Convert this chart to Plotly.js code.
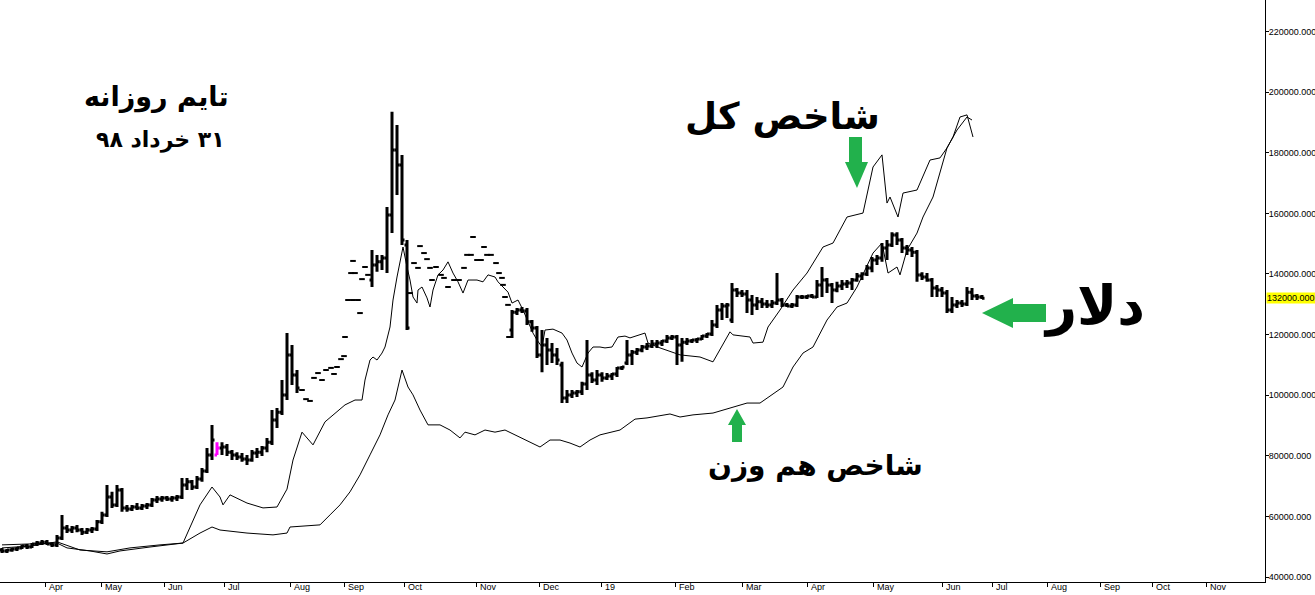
<!DOCTYPE html>
<html><head><meta charset="utf-8">
<script src="https://cdn.plot.ly/plotly-3.0.1.min.js"></script>
<style>html,body{margin:0;padding:0;background:#fff;}#chart{width:1315px;height:595px;}</style>
</head><body><div id="chart"></div>
<script>
// Month tick positions (bar index) and labels
const monthTicks = [8.6,19.8,32.4,44.4,57.6,68.4,80.4,94.8,107.4,119.8,134.6,148,161,174.2,188,198,209,219.6,230,240.8];
const monthLabels = ['Apr','May','Jun','Jul','Aug','Sep','Oct','Nov','Dec','19','Feb','Mar','Apr','May','Jun','Jul','Aug','Sep','Oct','Nov'];
const priceTicks = [40000,60000,80000,100000,120000,140000,160000,180000,200000,220000];

// USD (dollar) daily bars
const barX = [0,1,2,3,4,5,6,7,8,9,10,11,12,13,14,15,16,17,18,19,20,21,22,23,24,25,26,27,28,29,30,31,32,33,34,35,36,37,38,39,40,41,42,44,45,46,47,48,49,50,51,52,53,54,55,56,57,58,59,
74,75,76,77,78,79,80,81,
102,103,104,105,106,107,108,109,110,111,112,113,114,115,116,117,118,119,120,121,122,123,124,125,126,127,128,129,130,131,132,133,134,135,136,137,138,139,140,141,142,143,144,145,146,147,148,149,150,151,152,153,154,155,156,157,158,159,160,161,162,163,164,165,166,167,168,169,170,171,172,173,174,175,176,177,178,179,180,181,182,183,184,185,186,187,188,189,190,191,192,193,194,195,196];
const barOpen = [48900,48600,48900,49200,49600,50200,49900,50900,51200,51500,50900,50600,52900,56200,55500,56200,55500,54800,55500,55800,58200,60500,66400,63800,68700,62800,62400,63100,62800,63400,63800,65400,65700,66100,65700,66100,66400,70400,71400,69700,72300,75000,80300,82600,82900,81200,80300,79600,78900,78600,80900,81200,82600,84500,91800,94400,100100,113300,106700,
138000,143000,144000,145300,159500,180900,176000,149600,
121500,127400,128100,127800,124200,122200,113300,116600,114900,113300,110000,99100,100100,100700,101100,103700,106700,105000,106700,105700,106300,107000,109000,110600,113300,114200,114900,115900,116200,116900,117200,117900,118900,119200,116600,117500,117900,118200,118500,119500,120200,123200,128100,129400,124800,134700,133700,133400,131400,129800,130800,130100,129800,130400,131400,129800,129400,129800,132400,132400,132700,132400,136400,138000,136400,134700,136000,136700,137000,138000,139300,140000,142000,144600,145300,148600,149600,152900,151200,148600,147900,147200,139700,139000,138000,135400,134700,133700,128100,129800,130400,130100,134000,132700,132400];
const barHigh = [49600,49200,49600,49900,50600,50900,51200,51900,52200,52200,51500,53900,60500,57200,56800,57200,56200,56200,56500,58800,61500,70400,68100,70400,69400,63800,63800,64400,64100,64400,66100,66700,66700,66700,66700,67100,72700,72700,72000,73300,76000,82600,90200,84500,83900,81900,81200,80900,80300,81900,82600,83200,85900,95100,95800,105000,120500,116600,108300,
147900,146300,146300,162100,193500,189200,179300,151200,
128100,128800,129100,128800,124800,122800,121500,118900,117200,115600,111000,101700,101700,101700,104400,118200,107600,108300,107600,107300,107300,109300,109600,118200,114900,115600,116600,117200,118200,118200,118200,119900,119900,119900,118900,118900,118500,118900,119900,120500,124800,129800,130400,130400,137000,135400,134700,134700,133100,132400,132100,131400,131400,140300,132100,130400,130400,133100,133100,133100,133400,138000,142300,138700,137000,137400,138000,138000,138700,140300,140600,143000,145600,146300,150200,151200,153800,153800,151900,149600,148900,147900,140600,140300,138700,136400,135700,134700,132400,131400,131400,135700,135400,133400,133100];
const barLow = [47900,47900,48300,48600,49200,49200,49600,50200,50600,50600,49900,49900,52200,54500,54500,54800,53900,54200,54500,55200,57500,59800,62800,63100,61500,61500,61800,62100,62100,62400,63100,64400,64800,65100,64800,65100,65700,68700,68700,69000,71400,74300,78600,80300,79900,78600,78600,78000,77000,78000,79300,79900,81200,83600,89200,93500,98400,103400,100700,
135700,140700,141300,140300,153500,166100,149600,121500,
118900,126500,127100,123200,120900,112300,107600,110000,110600,110000,97400,97400,99100,99400,100100,101700,104000,103400,104400,105000,105000,106000,108300,110000,110000,113300,114200,114900,115600,115600,116200,117200,118200,110000,111000,116600,117200,117200,118200,118900,119500,122200,124800,125500,123800,132400,132400,127100,126500,128100,128800,128800,128800,129800,129100,129100,128800,129100,131700,131700,132100,132100,132400,133700,130400,134000,134700,135400,134700,137400,138000,139300,140600,143000,144000,144600,148900,149600,146900,146300,145600,137400,138000,137400,132400,132400,132400,127100,127100,128800,129100,129400,131400,131400,131700];
const barClose = [48600,48900,49200,49600,50200,49900,50900,51200,51500,50900,50600,52900,56200,55500,56200,55500,54800,55500,55800,58200,60500,66400,63800,68700,62800,62400,63100,62800,63400,63800,65400,65700,66100,65700,66100,66400,70400,71400,69700,72300,75000,80300,85200,82900,81200,80300,79600,78900,78600,80900,81200,82600,84500,91800,94400,100100,113300,106700,102400,
143000,144000,145300,159500,180900,176000,151200,122200,
127400,128100,127800,124200,122200,113300,116600,114900,113300,111600,99100,100100,100700,101100,103700,106700,105000,106700,105700,106300,107000,109000,109300,113300,114200,114900,115900,116200,116900,117200,117900,118900,119200,116600,117500,117900,118200,118500,119500,120200,123200,128100,129400,129800,134700,133700,133400,131400,129800,130800,130100,129800,130400,131400,129800,129400,129800,132400,132400,132700,132400,136400,138000,136400,134700,136000,136700,137000,138000,139300,140000,142000,144600,145300,148600,149600,152900,151200,148600,147900,147200,139700,139000,138000,135400,134700,133700,128100,129800,130400,130100,134000,132700,132400,132000];

// highlighted (magenta) bar
const markX = [43];
const markOpen = [80300], markHigh = [84500], markLow = [80300], markClose = [82600];

// single-quote days (open = high = low = close)
const flatX = [60.0,60.8,61.6,62.4,63.2,64.0,64.8,65.8,66.4,67.0,67.8,68.4,68.6,69.2,70.2,71.2,71.6,69.8,70.6,70.2,72.0,72.6,73.2,
81.6,82.4,83.2,83.6,84.4,85.0,85.6,86.0,86.8,87.8,88.4,89.2,90.4,91.4,92.4,93.0,93.8,94.2,95.0,95.8,96.4,97.0,97.8,98.8,99.4,100.0,100.2,100.6,101.2,101.4];
const flatPrice = [101700,98700,98100,105700,107300,105000,108300,109000,107000,109300,111900,112900,119200,131400,131400,131400,127100,140300,140300,144300,138300,142300,139700,
133700,143600,142000,149200,146900,144900,142000,138000,142300,139700,138700,135700,138000,138000,142000,146300,146300,152200,144600,144600,148900,146300,146300,143600,140300,138700,136400,132400,129800,119200];

// Total index (scaled)
const totalX = [0,5.6,11,12.6,15.6,21,25.6,31.6,36.2,39.6,42,43.6,44.2,45.6,49,52.2,55,57,58.2,60,62.2,64.6,66.6,68.6,70.6,72,72.6,73.6,74.2,75,76,76.6,77.6,78.2,79,79.6,80.2,81,81.6,82.2,83,83.2,84,85,85.6,86.2,87.2,88.2,89.2,90.2,91.2,92.2,93.2,95,96.2,97.2,98.6,99.2,100.2,101.2,102,103.2,104.2,105.6,106.2,107,108,108.6,110.2,112,113,114,115,116,117.2,118.2,119.6,120.6,122,123.2,124.6,125.6,128.6,129.2,131.6,135.6,139.6,142.2,145.6,146.2,149.6,150.2,152.2,153.2,155.6,158.2,161,164.2,166.2,169,172.2,174.2,176,177,177.6,179.2,180.2,183,185.6,187.6,189,190.2,191.6,193,194.2];
const totalVal = [49600,50200,51600,50600,48900,48300,49600,50600,51200,63800,69700,66400,63800,67100,64400,62800,63100,69000,78600,87800,83600,91200,94100,96800,98400,98400,105000,111600,112600,111600,113900,115900,122500,131400,139000,144600,148900,142300,138000,132400,130400,134700,135700,132100,129100,134700,139700,141300,144000,140300,137400,133700,138000,138000,137400,139700,139000,137400,135700,134000,130400,131400,128100,122500,120500,118200,115900,121500,121800,120500,118200,113900,110600,109300,113900,115900,115900,115600,115900,119200,119500,118900,120500,117200,115600,113300,112600,111000,120900,119900,119200,117200,117500,122500,128100,134700,140300,148900,150200,158800,160100,175300,179300,163400,165400,158800,166700,167700,177600,178300,181600,185200,191800,192500,185200];

// Equal-weight index (scaled)
const equalX = [0,5.6,11,13,17.6,21,23.6,29.6,36.2,39.6,42,43.6,49,54.2,57,57.6,63.6,65.6,67.6,69.6,71.6,73.6,75.6,77.2,78.6,80,81.2,82.2,83.6,85.2,87.6,89.6,91.6,92.6,94.6,96.6,98.6,100.6,102.6,104.6,107.6,109.6,111.6,113.6,115.6,117.6,119.6,123.6,126.6,129,133.6,135.6,138.2,142.2,145.6,149,151.6,155,156.2,158.2,160.2,162.2,165,167,169,171,174.2,176,177.2,179,179.6,181,183,184.2,186.2,189,191,193,194];
const equalVal = [50600,50900,51200,49600,48600,47600,48600,49900,51200,54500,56500,55500,54500,53900,54500,56500,57200,60500,63800,68100,73700,80300,86900,93500,98400,108300,102700,100100,95100,90200,90200,88500,85900,87800,86900,88500,87800,88500,86900,85200,82900,85200,85200,84200,82900,85200,86900,88500,92100,92500,93800,92800,93500,94100,95800,97400,97400,101100,102700,109300,113900,115900,124800,129100,130400,135700,146900,150200,140300,142300,139700,147900,153500,158800,165400,181600,187500,191800,190800];

const lastPrice = 132000;

const barLine = {color:'#000', width:3};
const traces = [
  {type:'scatter', mode:'lines', x: totalX, y: totalVal, line:{color:'#000', width:1}, hoverinfo:'skip'},
  {type:'scatter', mode:'lines', x: equalX, y: equalVal, line:{color:'#000', width:1}, hoverinfo:'skip'},
  {type:'ohlc', x: barX, open: barOpen, high: barHigh, low: barLow, close: barClose,
   increasing:{line:barLine}, decreasing:{line:barLine}, tickwidth:0.5, hoverinfo:'skip'},
  {type:'ohlc', x: markX, open: markOpen, high: markHigh, low: markLow, close: markClose,
   increasing:{line:{color:'#ff00ff', width:3}}, decreasing:{line:{color:'#ff00ff', width:3}}, tickwidth:0.5, hoverinfo:'skip'},
  {type:'scatter', mode:'markers', x: flatX, y: flatPrice, hoverinfo:'skip',
   marker:{symbol:'line-ew', size:4, color:'#000', line:{color:'#000', width:2}}}
];

const W = 1265, H = 582;
function P(px, py){ return (px / W).toFixed(5) + ',' + (1 - py / H).toFixed(5); }
function poly(pts){ return 'M' + pts.map(p => P(p[0], p[1])).join(' L') + ' Z'; }
const green = '#22B14C';
const arrowDown = [[849,137],[862,137],[862,162],[868,162],[857,188],[845,162],[849,162]];
const arrowUp = [[732,442],[742,442],[742,425],[746,425],[737,409],[728,425],[732,425]];
const arrowLeft = [[1046,304],[1046,322],[1013,322],[1013,328],[982,313],[1013,298],[1013,304]];

const fa = 'DejaVu Sans, sans-serif';
const tf = 'Liberation Sans, Arial, sans-serif';
const layout = {
  width:1315, height:595,
  margin:{l:0, r:50, t:0, b:13, pad:0},
  paper_bgcolor:'#fff', plot_bgcolor:'#fff',
  showlegend:false,
  xaxis:{
    range:[-0.4, 252.6], showgrid:false, zeroline:false,
    tickmode:'array', tickvals: monthTicks, ticktext: monthLabels,
    ticks:'outside', ticklen:4, tickwidth:1, tickcolor:'#000',
    showline:true, linecolor:'#000', linewidth:1,
    ticklabelposition:'outside right', ticklabelstandoff:-4, ticklabelshift:3,
    tickfont:{family:tf, size:9, color:'#000'},
    rangeslider:{visible:false}, fixedrange:true
  },
  yaxis:{
    side:'right', range:[38350, 230410], showgrid:false, zeroline:false,
    tickmode:'array', tickvals: priceTicks, tickformat:'.3f',
    ticks:'outside', ticklen:3, tickwidth:1, tickcolor:'#000',
    showline:true, linecolor:'#000', linewidth:1,
    ticklabelstandoff:-2,
    tickfont:{family:tf, size:9, color:'#000'},
    fixedrange:true
  },
  shapes:[
    {type:'path', xref:'paper', yref:'paper', path: poly(arrowDown), fillcolor: green, line:{width:0}},
    {type:'path', xref:'paper', yref:'paper', path: poly(arrowUp), fillcolor: green, line:{width:0}},
    {type:'path', xref:'paper', yref:'paper', path: poly(arrowLeft), fillcolor: green, line:{width:0}}
  ],
  annotations:[
    {xref:'paper', yref:'y', x:1, y:lastPrice, xanchor:'left', yanchor:'middle', xshift:1,
     text: lastPrice.toFixed(3), showarrow:false, bgcolor:'#ffff00', borderpad:0,
     font:{family:tf, size:9, color:'#000'}},
    {xref:'paper', yref:'paper', x:0.1241, y:0.8333, xanchor:'center', yanchor:'middle', showarrow:false,
     text:'<b>تایم روزانه</b>', font:{family:fa, size:27, color:'#000'}},
    {xref:'paper', yref:'paper', x:0.1265, y:0.7595, xanchor:'center', yanchor:'middle', showarrow:false,
     text:'<b>\u200F۳۱ خرداد ۹۸</b>', font:{family:fa, size:22, color:'#000'}},
    {xref:'paper', yref:'paper', x:0.6182, y:0.7990, xanchor:'center', yanchor:'middle', showarrow:false,
     text:'<b>شاخص کل</b>', font:{family:fa, size:37, color:'#000'}},
    {xref:'paper', yref:'paper', x:0.6443, y:0.2010, xanchor:'center', yanchor:'middle', showarrow:false,
     text:'<b>شاخص هم وزن</b>', font:{family:fa, size:28, color:'#000'}},
    {xref:'paper', yref:'paper', x:0.8648, y:0.4759, xanchor:'center', yanchor:'middle', showarrow:false,
     text:'<b>دلار</b>', font:{family:fa, size:54, color:'#000'}}
  ]
};
Plotly.newPlot('chart', traces, layout, {displayModeBar:false, staticPlot:true});
</script></body></html>
